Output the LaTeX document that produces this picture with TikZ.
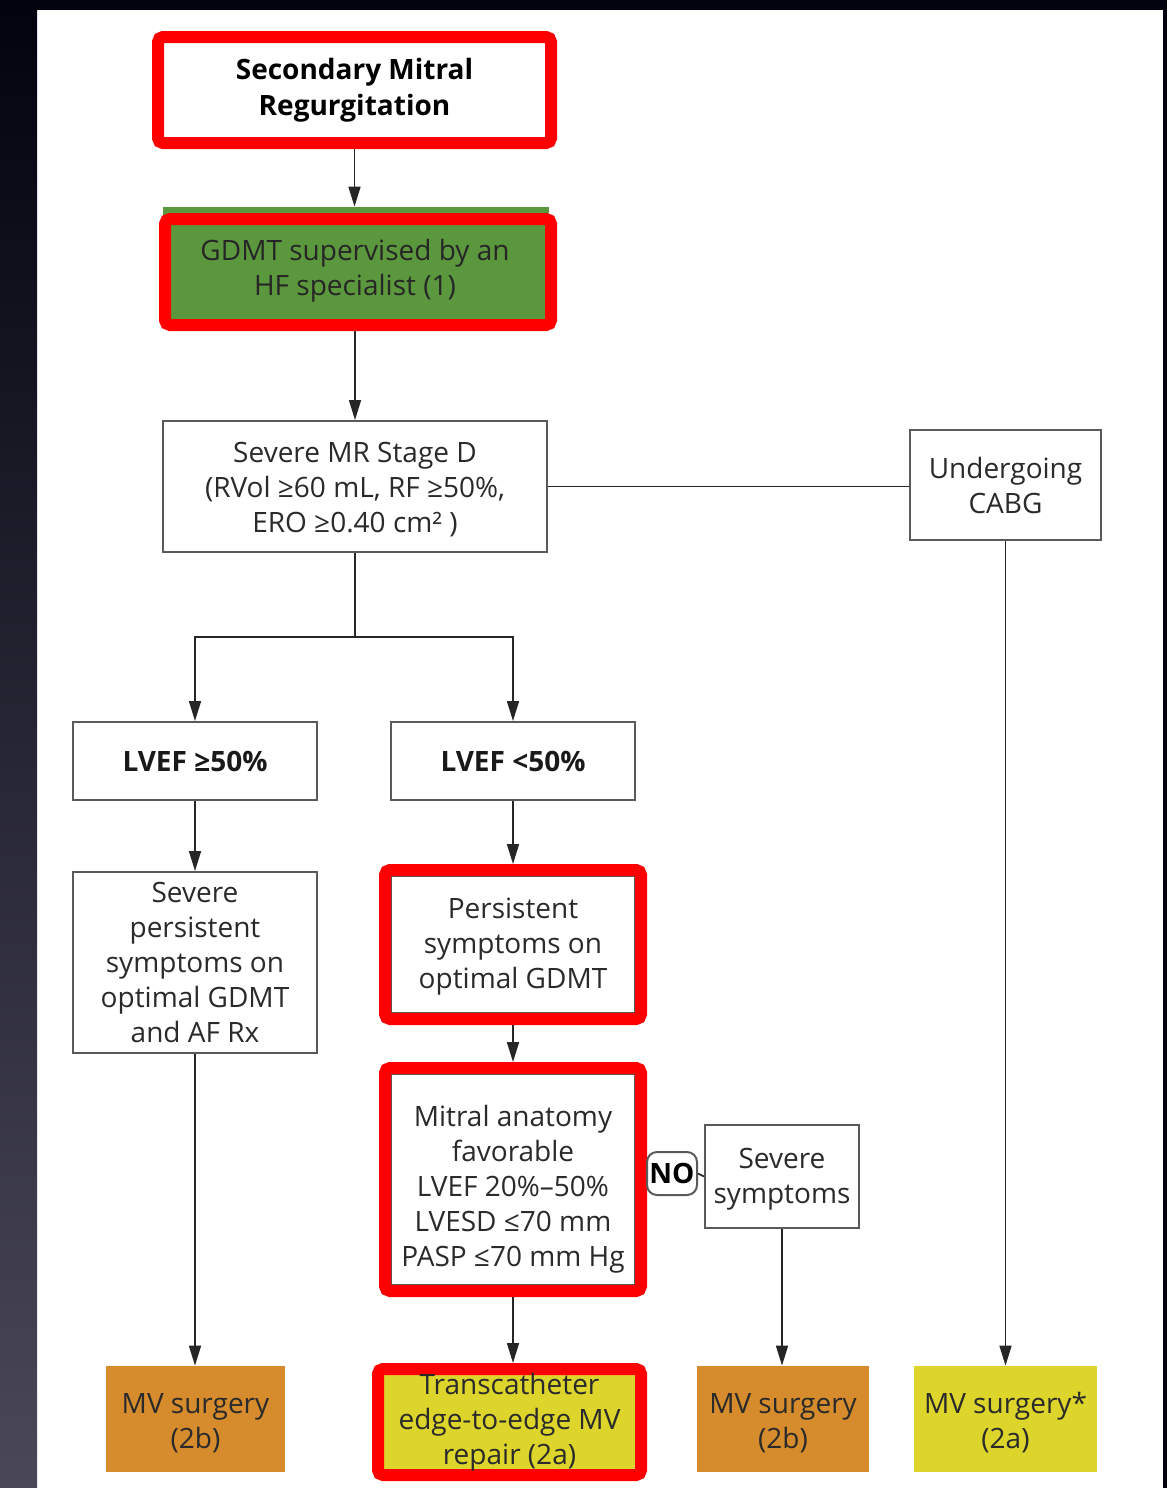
\documentclass[tikz,border=0pt]{standalone}
\usepackage{fontspec}
\setmainfont{Open Sans}
\usetikzlibrary{arrows.meta}

\definecolor{hlred}{HTML}{FF0000}
\definecolor{boxgray}{HTML}{5A5A5A}
\definecolor{txtgray}{HTML}{2A2A2A}
\definecolor{gdmtgreen}{HTML}{5B973C}
\definecolor{orangebox}{HTML}{D68C2C}
\definecolor{yellowbox}{HTML}{DDD52B}
\definecolor{stripTop}{HTML}{03030F}
\definecolor{stripBot}{HTML}{4A4858}

\newcommand\bodyfont{\fontsize{14}{17.5}\selectfont}

\tikzset{
  box/.style={draw=boxgray, line width=1pt, fill=white, align=center,
    inner sep=0pt, font=\bodyfont, text=txtgray},
  hlframe/.style={draw=hlred, line width=6pt, rounded corners=2.5pt,
    inner sep=0pt, align=center},
  outcome/.style={inner sep=0pt, align=center, font=\bodyfont, text=txtgray,
    minimum height=53pt},
  boxtext/.style={inner sep=0pt, align=center, font=\bodyfont, text=txtgray},
  conn/.style={draw=black!85, line width=0.8pt},
  arr/.style={conn, -{Triangle[length=10pt,width=6pt]}},
}

\begin{document}
\begin{tikzpicture}[x=0.5pt,y=-0.5pt]
\useasboundingbox (0,0) rectangle (1167,1488);

% page background and dark margins
\fill[white] (0,0) rectangle (1167,1488);
\shade[top color=stripTop, bottom color=stripBot] (0,0) rectangle (37,1488);
\fill[stripTop] (0,0) rectangle (1167,10);
\fill[stripTop] (1163,0) rectangle (1167,1488);

% title
\node[hlframe, fill=white, minimum width=196.5pt, minimum height=53pt,
  font=\fontsize{14}{18}\selectfont\bfseries] (title) at (354.5,90)
  {Secondary Mitral\\Regurgitation};

% GDMT
\node[fill=gdmtgreen, inner sep=0pt, minimum width=193pt, minimum height=59pt]
  (gdmtbg) at (356,266) {};
\node[hlframe, minimum width=193pt, minimum height=53pt] (gdmt) at (358,272) {};
\node[boxtext, text=black!85] (gdmttxt) at (355,271)
  {GDMT supervised by an\\HF specialist (1)};

% severe MR
\node[box, minimum width=192pt, minimum height=65.5pt] (sev) at (355,486.5) {};
\node[boxtext] (sevtxt) at (355,490)
  {Severe MR Stage D\\(RVol ≥60 mL, RF ≥50\%,\\ERO ≥0.40 cm² )};
\node[box, minimum width=95.5pt, minimum height=55pt] (cabg) at (1005.5,485)
  {Undergoing\\CABG};

% LVEF split
\node[box, minimum width=122pt, minimum height=39pt, font=\bodyfont\bfseries,
  text=black!90] (lvefA) at (195,761) {LVEF ≥50\%};
\node[box, minimum width=122pt, minimum height=39pt, font=\bodyfont\bfseries,
  text=black!90] (lvefB) at (513,761) {LVEF <50\%};

\node[box, minimum width=122pt, minimum height=90.5pt] (sevp) at (195,962.5)
  {Severe\\persistent\\symptoms on\\optimal GDMT\\and AF Rx};

\node[box, minimum width=122pt, minimum height=68.5pt] (persbox) at (513,944.5) {};
\node[boxtext] (perstxt) at (513,947) {Persistent\\symptoms on\\optimal GDMT};
\node[hlframe, minimum width=128pt, minimum height=74.5pt] (pers) at (513,944.5) {};

\node[box, minimum width=122pt, minimum height=105.5pt] (mitbox) at (513,1179.5) {};
\node[boxtext] (mittxt) at (513,1189)
  {Mitral anatomy\\favorable\\LVEF 20\%–50\%\\LVESD ≤70 mm\\PASP ≤70 mm Hg};
\node[hlframe, minimum width=128pt, minimum height=111.5pt] (mitral) at (513,1179.5) {};

\node[draw=boxgray, line width=1pt, fill=white, rounded corners=5pt,
  minimum width=25pt, minimum height=21.5pt, inner sep=0pt,
  font=\bodyfont\bfseries, text=black] (no) at (672,1173.5) {NO};
\node[box, minimum width=77pt, minimum height=51.5pt] (sevs) at (782,1176.5) {};
\node[boxtext] (sevstxt) at (782,1179) {Severe\\symptoms};

% outcomes
\node[outcome, fill=orangebox, minimum width=89.5pt] (mv1) at (195.5,1419) {};
\node[boxtext] at (195.5,1423) {MV surgery\\(2b)};
\node[hlframe, fill=yellowbox, minimum width=131.5pt, minimum height=53pt,
  font=\bodyfont, text=txtgray] (teer) at (509.5,1422)
  {Transcatheter\\edge-to-edge MV\\repair (2a)};
\node[outcome, fill=orangebox, minimum width=86pt] (mv2) at (783,1419) {};
\node[boxtext] at (783,1423) {MV surgery\\(2b)};
\node[outcome, fill=yellowbox, minimum width=91.5pt] (mv3) at (1005.5,1419) {};
\node[boxtext] at (1005.5,1423) {MV surgery*\\(2a)};

% connectors
\coordinate (split) at (355,637);
\draw[arr] (title.south) -- (title.south |- gdmtbg.north);
\draw[arr] (sev.north |- gdmt.south) -- (sev.north);
\draw[conn] (sev.east) -- (sev.east -| cabg.west);
\draw[conn] (sev.south) -- (split);
\draw[arr] (split) -| (lvefA.north);
\draw[arr] (split) -| (lvefB.north);
\draw[arr] (lvefA.south) -- (sevp.north);
\draw[arr] (lvefB.south) -- (pers.north);
\draw[arr] (pers.south) -- (mitral.north);
\draw[conn] (no.east) -- (sevs.west);
\draw[arr] (sevs.south) -- (sevs.south |- mv2.north);
\draw[arr] (sevp.south) -- (sevp.south |- mv1.north);
\draw[arr] (mitral.south) -- (teer.north -| mitral.south);
\draw[arr] (cabg.south) -- (cabg.south |- mv3.north);
\end{tikzpicture}
\end{document}
